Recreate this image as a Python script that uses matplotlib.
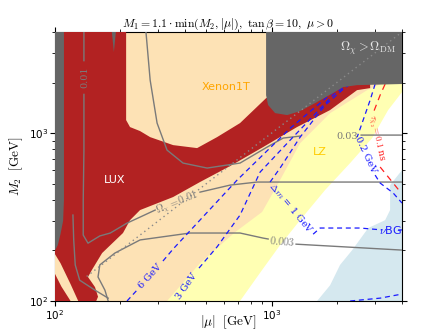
import matplotlib
matplotlib.use("Agg")
import matplotlib.pyplot as plt
import numpy as np

plt.rcParams['mathtext.fontset'] = 'cm'

nan = np.nan

# excluded / shaded regions, (|mu|, M2) in GeV
lz_mu = [100, 715, 904, 1094, 1354, 1766, 2305, 2911, 3451, 4000, 4000, 100]
lz_m2 = [100, 100, 153, 215, 303, 458, 663, 933, 1370, 1754, 4000, 4000]

nubg_mu = [1622, 1862, 2070, 2356, 2793, 3343, 3524, 3524, 4000, 4000]
nubg_m2 = [100, 124, 164, 201, 272, 303, 348, 490, 602, 100]

xenon_mu = [100, 329, 467, 678, 904, 1094, 1354, 1862, 2762, 3343, 4000, 4000, 100]
xenon_m2 = [100, 100, 168, 257, 339, 525, 871, 1315, 1802, 2012, 2100, 4000, 4000]

lux_mu = [100, 213, 213, 222, 247, 275, 351, 453, 560, 715, 943, 1675, 2850, 2850,
          2480, 1860, 1310, 913, 643, 467, 351, 247, 222, 206, 165, 148, 142, 153,
          158, 155, 100]
lux_m2 = [4000, 4000, 1195, 1086, 1028, 946, 848, 814, 946, 1147, 1614, 2213, 2213,
          1853, 1802, 1370, 1086, 825, 636, 511, 416, 348, 303, 254, 193, 153, 139,
          121, 106, 100, 100]

corner_mu = [100, 106, 118, 128, 118, 107, 100]
corner_m2 = [190, 168, 126, 100, 100, 122, 145]

omega_mu = [943, 943, 963, 1038, 1180, 1354, 1590, 1920, 2140, 2480, 4000, 4000]
omega_m2 = [4000, 1680, 1470, 1315, 1280, 1352, 1510, 1730, 1880, 1930, 1960, 4000]

strip_mu = [100, 110, 110, 109, 106, 103, 100]
strip_m2 = [4000, 4000, 400, 300, 250, 215, 200]

spike_mu = [183, 191, 187]
spike_m2 = [4000, 4000, 3034]

# relic density contours (nan = gap for the inline label)
oh003_mu = [263, 275, 296, 329, 390, 504, 715, 953, 1131, 1354, nan, 2590, 4000]
oh003_m2 = [4000, 2066, 1147, 792, 663, 619, 663, 825, 934, 960, nan, 973, 973]

oh001_mu = [136, 136, nan, 136, 136, 135, 135, 142, 161, 180, 215, 247, 290, nan,
            467, 643, 857, 1354, 4000]
oh001_m2 = [4000, 2700, nan, 1700, 792, 399, 247, 221, 244, 254, 291, 316, 348, nan,
            445, 490, 511, 511, 511]

oh0003_mu = [176, 170, 158, 161, 189, 247, 420, 715, 913, 964, nan, 1297, 4000]
oh0003_m2 = [100, 116, 139, 164, 193, 231, 254, 254, 237, 234, nan, 218, 201]

oh01_mu = [121, 122, 124, 130, 153, 176]
oh01_m2 = [325, 231, 164, 133, 116, 104]

diag_mu = [140, 4000]
diag_m2 = [140, 4000]

# mass splitting contours
dm6_mu = [215, 239, nan, 315, 351, 693, 1218, 1923, 2185]
dm6_m2 = [100, 116, nan, 173, 204, 525, 1068, 1754, 1959]

dm3_mu = [462, 560, 715, 885, 1218, 1923, 2185]
dm3_m2 = [157, 210, 325, 586, 908, 1683, 1905]

dm1_mu = [2305, 2116, 1766, 1354, 1094, 984, nan, 1555, 1675, 2564, 3239, nan, 3837, 4000]
dm1_m2 = [1959, 1802, 1468, 946, 619, 511, nan, 250, 272, 272, 265, nan, 265, 265]

dm02_mu = [3006, 2850, 2646, 2483, nan, 3006, 3170, 3640, 4000]
dm02_m2 = [1959, 1571, 1195, 946, nan, 562, 504, 440, 383]

dmlow_mu = [2305, 3170, 4000]
dmlow_m2 = [100, 104, 110]

tau_mu = [3343, 3170, 2943, nan, 3170, 3640, 3962]
tau_m2 = [1959, 1683, 1315, nan, 628, 504, 440]

fig = plt.figure(figsize=(4.45, 3.34), dpi=100)
ax = fig.add_axes([0.1236, 0.0988, 0.7798, 0.8054])
ax.set_xscale('log')
ax.set_yscale('log')

ax.fill(lz_mu, lz_m2, color='#ffffb3', lw=0, zorder=1)
ax.fill(nubg_mu, nubg_m2, color='#d5e8ef', lw=0, zorder=1)
ax.fill(xenon_mu, xenon_m2, color='#fde2b5', lw=0, zorder=2)
ax.fill(lux_mu, lux_m2, color='#b22222', lw=0, zorder=3)
ax.fill(corner_mu, corner_m2, color='#fde2b5', lw=0, zorder=3)

gray_line = dict(color='#7a7a7a', lw=1.0, zorder=4)
ax.plot(oh003_mu, oh003_m2, **gray_line)
ax.plot(oh001_mu, oh001_m2, **gray_line)
ax.plot(oh0003_mu, oh0003_m2, **gray_line)
ax.plot(oh01_mu, oh01_m2, **gray_line)

blue_dash = dict(color='#1a1aff', lw=0.9, ls=(0, (4, 3)), zorder=4)
ax.plot(dm6_mu, dm6_m2, **blue_dash)
ax.plot(dm3_mu, dm3_m2, **blue_dash)
ax.plot(dm1_mu, dm1_m2, **blue_dash)
ax.plot(dm02_mu, dm02_m2, **blue_dash)
ax.plot(dmlow_mu, dmlow_m2, **blue_dash)
ax.plot(tau_mu, tau_m2, color='#ff2020', lw=0.9, ls=(0, (5, 4)), zorder=4)

ax.fill(omega_mu, omega_m2, color='#666666', lw=0, zorder=5)
ax.fill(strip_mu, strip_m2, color='#666666', lw=0, zorder=5)
ax.fill(spike_mu, spike_m2, color='#666666', lw=0, zorder=5)
ax.plot(diag_mu, diag_m2, color='#8a8a8a', lw=1.0, ls=(0, (1, 2.5)), zorder=6)

# region labels
ax.text(617, 1879, 'Xenon1T', color='#ffa500', fontsize=8, ha='center', va='center', zorder=7)
ax.text(189, 525, 'LUX', color='white', fontsize=8, ha='center', va='center', zorder=7)
ax.text(1675, 770, 'LZ', color='#ffcc00', fontsize=8, ha='center', va='center', zorder=7)
ax.text(2790, 3207, r'$\Omega_\chi > \Omega_{\rm DM}$', color='#e6e6e6', fontsize=9,
        ha='center', va='center', zorder=7)

# contour labels
lab = dict(ha='center', va='center', zorder=7)
ax.text(2230, 960, '0.03', color='#7a7a7a', fontsize=7, family='serif', **lab)
ax.text(137, 2140, '0.01', color='#7a7a7a', fontsize=7, family='serif', rotation=90, **lab)
ax.text(366, 383, r'$\Omega_\chi = 0.01$', color='#7a7a7a', fontsize=7.5, rotation=22, **lab)
ax.text(1118, 228, r'$0.003$', color='#7a7a7a', fontsize=7.5, rotation=-5, **lab)
ax.text(275, 141, '6 GeV', color='#1a1aff', fontsize=7, family='serif', rotation=48, **lab)
ax.text(403, 123, '3 GeV', color='#1a1aff', fontsize=7, family='serif', rotation=55, **lab)
ax.text(1230, 358, r'$\Delta m$ = 1 GeV', color='#1a1aff', fontsize=7, family='serif',
        rotation=-50, **lab)
ax.text(2703, 739, '0.2 GeV', color='#1a1aff', fontsize=7, family='serif', rotation=-65, **lab)
ax.text(3040, 933, r'$\tau_{\tilde\chi_2}=0.1$ ns', color='#ff2020', fontsize=6.5,
        family='serif', rotation=-78, **lab)
ax.text(3524, 265, r'$\nu$BG', color='#1a1aff', fontsize=8, **lab)

ax.set_xlim(100, 4000)
ax.set_ylim(100, 4000)
ax.tick_params(which='both', direction='out', top=True, right=True, labelsize=7.5, pad=1.5)
ax.tick_params(which='major', length=3.5)
ax.tick_params(which='minor', length=2)
ax.set_xlabel(r'$|\mu|\ \ [\mathrm{GeV}]$', fontsize=9.5, va='center')
ax.xaxis.set_label_coords(0.5, -0.08)
ax.set_ylabel(r'$M_2\ \ [\mathrm{GeV}]$', fontsize=9.5, labelpad=3)
ax.set_title(r'$M_1 = 1.1\cdot\mathrm{min}(M_2,|\mu|),\ \tan\beta = 10,\ \mu>0$',
             fontsize=8.5, pad=3)

fig.savefig('out.png', dpi=100)
